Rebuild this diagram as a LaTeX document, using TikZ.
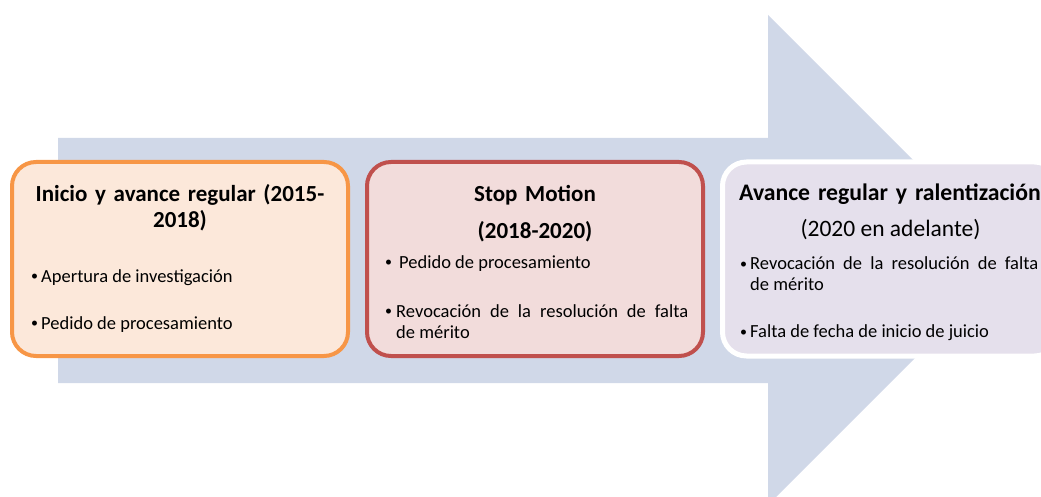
\documentclass[tikz,border=0pt]{standalone}
\usepackage{fontspec}
\setmainfont{Carlito}
\usetikzlibrary{positioning}
\definecolor{arrowgray}{HTML}{D0D8E8}
\definecolor{orangeline}{HTML}{F79646}
\definecolor{orangefill}{HTML}{FCE8DA}
\definecolor{redline}{HTML}{C0504D}
\definecolor{redfill}{HTML}{F2DCDB}
\definecolor{lilafill}{HTML}{E5E0EC}
\newcommand{\bul}[2][10pt]{\hangindent=#1\hangafter=1\noindent
 \makebox[#1][l]{\fontsize{14}{14}\selectfont\raisebox{1.2pt}{\textbullet}}#2\par}

\begin{document}
\begin{tikzpicture}[x=1pt,y=-1pt,
 stage/.style={draw,line width=4pt,rounded corners=24pt,minimum width=336pt,
  minimum height=194pt,inner sep=0pt},
 title/.style={font=\fontsize{23}{27}\selectfont\bfseries,align=center,
  text width=320pt,inner sep=0pt,anchor=base},
 item/.style={font=\fontsize{18.5}{21}\selectfont,text width=291pt,
  align=justify,inner sep=0pt,anchor=base west}]

  \useasboundingbox (0,0) rectangle (1041,497);
  \clip (0,0) rectangle (1041,497);
  % big arrow
  \fill[arrowgray] (58,138) -- (768,138) -- (768,15) -- (1013,260)
   -- (768,505) -- (768,383) -- (58,383) -- cycle;

  \node[stage,draw=orangeline,fill=orangefill] (s1) at (180,259) {};
  \node[stage,draw=redline,fill=redfill,right=15pt of s1] (s2) {};
  \node[stage,draw=white,line width=5pt,fill=lilafill,right=15pt of s2] (s3) {};

  % titles
  \node[title] (t1) at ([yshift=-41pt]s1.north) {Inicio y avance regular (2015-\\2018)};
  \node[title,font=\fontsize{23}{37}\selectfont\bfseries] (t2) at ([yshift=-41pt]s2.north)
   {Stop Motion\\(2018-2020)};
  \node[title,font=\fontsize{23.7}{27}\selectfont\bfseries,anchor=base west,align=left] (t3)
   at ([xshift=19pt,yshift=-41pt]s3.north west) {Avance regular y ralentización};
  \node[font=\fontsize{23.5}{28}\selectfont,anchor=base,inner sep=0pt] (t3b)
   at ([yshift=-77pt]s3.north) {(2020 en adelante)};

  % items
  \node[item] (i11) at ([xshift=21pt,yshift=-122pt]s1.north west) {\bul{Apertura de investigación}};
  \node[item] (i12) at ([xshift=21pt,yshift=-169pt]s1.north west) {\bul{Pedido de procesamiento}};
  \node[item,text width=303pt] (i21) at ([xshift=20pt,yshift=-108pt]s2.north west)
   {\bul[14pt]{Pedido de procesamiento}};
  \node[item,text width=303pt] (i22) at ([xshift=20pt,yshift=-157pt]s2.north west)
   {\bul[11pt]{Revocación de la resolución de falta\linebreak de mérito}};
  \node[item,text width=298pt] (i31) at ([xshift=20pt,yshift=-110pt]s3.north west)
   {\bul[10pt]{Revocación de la resolución de falta\linebreak de mérito}};
  \node[item,text width=298pt] (i32) at ([xshift=20pt,yshift=-178pt]s3.north west)
   {\bul[10pt]{Falta de fecha de inicio de juicio}};

\end{tikzpicture}
\end{document}
